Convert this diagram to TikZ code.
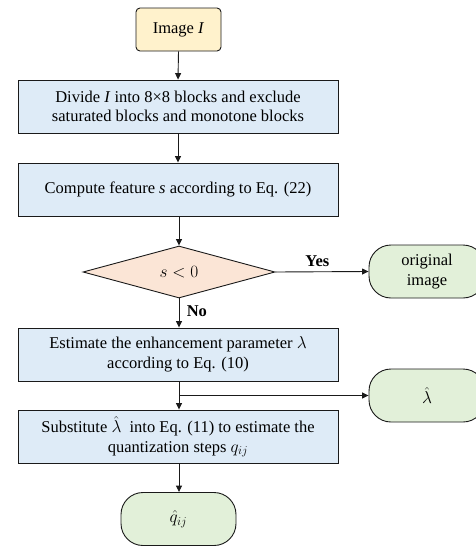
\documentclass[tikz,border=0pt]{standalone}
\usepackage{fontspec}
\setmainfont{Liberation Serif}
\usetikzlibrary{shapes.geometric,arrows.meta}
\definecolor{boxblue}{HTML}{DEEBF7}
\definecolor{peach}{HTML}{FBE5D6}
\definecolor{termgreen}{HTML}{E2F0D9}
\definecolor{startyellow}{HTML}{FFF2CC}
\definecolor{edge}{HTML}{1A1A1A}
\tikzset{
  base/.style={draw=edge, line width=0.9pt, font=\fontsize{16.5}{19.5}\selectfont, align=center, inner sep=0pt},
  procbox/.style={base, rectangle, fill=boxblue, minimum width=320pt, minimum height=53pt},
  startbox/.style={base, rectangle, rounded corners=4pt, fill=startyellow, minimum width=85pt, minimum height=43pt},
  decbox/.style={base, diamond, fill=peach, minimum width=192pt, minimum height=52pt, shape aspect=3.7},
  termbox/.style={base, rectangle, rounded corners=22pt, fill=termgreen, minimum width=116pt, minimum height=53pt},
  conn/.style={draw=edge, line width=0.9pt, -{Triangle[length=6.5pt,width=6pt]}},
  lbl/.style={font=\fontsize{16.5}{19}\selectfont\bfseries}
}
\begin{document}
\begin{tikzpicture}[x=1pt,y=-1pt]
\useasboundingbox (0,0) rectangle (475,546);
\node[startbox] (img) at (178.5,29.5) {Image \textit{I}};
\node[procbox] (div) at (178,106.5) {Divide \textit{I} into 8×8 blocks and exclude\\saturated blocks and monotone blocks};
\node[procbox] (feat) at (178,189.5) {Compute feature \textit{s} according to Eq. (22)};
\node[decbox] (dec) at (179,272) {$s<0$};
\node[termbox] (orig) at (427,271.5) {original\\image};
\node[procbox] (est) at (178,354.5) {Estimate the enhancement parameter $\lambda$\\according to Eq. (10)};
\node[termbox] (lam) at (427,395.5) {$\hat\lambda$};
\node[procbox] (sub) at (178,436.5) {Substitute $\hat\lambda$\ \ into Eq. (11) to estimate the\\quantization steps $q_{ij}$};
\node[termbox, minimum width=115pt] (qh) at (178.5,519) {$\hat q_{ij}$};
\coordinate (br) at (est.south |- lam.west);
\draw[conn] (img.south) -- (div.north);
\draw[conn] (div.south) -- (feat.north);
\draw[conn] (feat.south -| dec.north) -- (dec.north);
\draw[conn] (dec.east) -- node[lbl, above, pos=0.45, yshift=1pt] {Yes} (orig.west);
\draw[conn] (dec.south) -- node[lbl, right, pos=0.45, xshift=4pt] {No} (dec.south |- est.north);
\draw[conn] (dec.south |- est.south) -- (dec.south |- sub.north);
\draw[conn] (br -| dec.south) -- (lam.west);
\draw[conn] (dec.south |- sub.south) -- (qh.north -| dec.south);
\end{tikzpicture}
\end{document}
